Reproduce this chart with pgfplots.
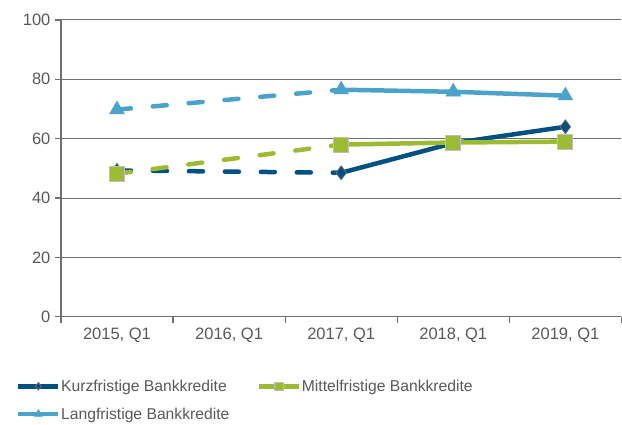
\documentclass[border=0pt]{standalone}
\usepackage{pgfplots}
\pgfplotsset{compat=1.18}
\usepackage{fontspec}
\setmainfont{Liberation Sans}
\definecolor{kurz}{RGB}{0,80,130}
\definecolor{mittel}{RGB}{155,187,50}
\definecolor{lang}{RGB}{75,163,204}
\definecolor{txt}{RGB}{89,89,89}
\definecolor{axc}{RGB}{110,112,115}
\begin{document}
\begin{tikzpicture}
\begin{axis}[
  scale only axis,
  width=561pt, height=297pt,
  xmin=-0.5, xmax=4.5, ymin=0, ymax=100,
  axis lines*=left,
  axis line style={axc, line width=1.2pt},
  ytick={0,20,...,100},
  ymajorgrids,
  grid style={axc, line width=1pt},
  xtick={0,...,4},
  xticklabels={{2015, Q1},{2016, Q1},{2017, Q1},{2018, Q1},{2019, Q1}},
  minor xtick={-0.5,0.5,...,4.5},
  major x tick style={draw=none},
  minor x tick style={axc, line width=1.2pt},
  y tick style={axc, line width=1.2pt},
  tick align=outside,
  major tick length=6pt, minor tick length=6pt,
  tick label style={font=\fontsize{16.5}{19}\selectfont, text=txt},
  /pgf/number format/assume math mode=true,
  xticklabel style={yshift=-2pt},
  yticklabel style={xshift=-1pt},
  unbounded coords=jump,
  legend image code/.code={%
    \draw[#1, solid] (0pt,0pt) -- (40pt,0pt);
    \draw[#1, solid, every mark/.append style={scale=0.55}] plot coordinates {(20pt,0pt)};},
  legend style={at={(0,0)}, anchor=north west, xshift=-48pt, yshift=-59pt,
    draw=none, fill=none, font=\fontsize{15.7}{18}\selectfont, text=txt,
    legend cell align=left, column sep=0pt, row sep=11pt,
    nodes={inner xsep=0.5pt},
    /tikz/every even column/.append style={column sep=27pt}},
  legend columns=2,
  clip=false,
]
% dashed connections (2015 -> 2017)
\addplot[kurz, line width=4.5pt, dash pattern=on 14pt off 22pt, line cap=round, forget plot] coordinates {(0,49.3)(2,48.5)};
\addplot[mittel, line width=4.5pt, dash pattern=on 14pt off 22pt, line cap=round, forget plot] coordinates {(0,48.2)(2,58)};
\addplot[lang, line width=4.5pt, dash pattern=on 14pt off 22pt, line cap=round, forget plot] coordinates {(0,69.8)(2,76.5)};
% solid
\addplot[kurz, line width=4.5pt, mark=diamond*, mark size=7pt,
  mark options={fill=kurz, draw=axc, line width=0.8pt, solid}]
  coordinates {(0,49.3)(1,nan)(2,48.5)(3,58.5)(4,64)};
\addlegendentry{Kurzfristige Bankkredite}
\addplot[mittel, line width=4.5pt, mark=square*, mark size=7.5pt,
  mark options={fill=mittel, draw=black!25, line width=1pt, solid}]
  coordinates {(0,48.2)(1,nan)(2,58)(3,58.7)(4,59)};
\addlegendentry{Mittelfristige Bankkredite}
\addplot[lang, line width=4.5pt, mark=triangle*, mark size=8.5pt,
  mark options={fill=lang, draw=lang, line width=0.5pt, solid}]
  coordinates {(0,69.8)(1,nan)(2,76.5)(3,75.8)(4,74.5)};
\addlegendentry{Langfristige Bankkredite}
\end{axis}
\path (current axis.south west) ++(-61pt,-106pt) coordinate (bl);
\path (current axis.north east) ++(0pt,20pt) coordinate (tr);
\useasboundingbox (bl) rectangle (tr);
\end{tikzpicture}
\end{document}
